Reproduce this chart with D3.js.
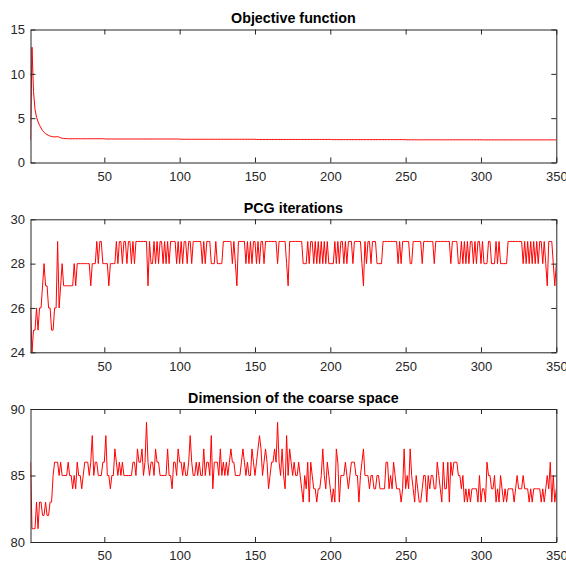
<!DOCTYPE html>
<html>
<head>
<meta charset="utf-8">
<script src="https://cdn.jsdelivr.net/npm/d3@7"></script>
<style>
  body { margin: 0; background: #fff; }
  text { font-family: "Liberation Sans", Arial, Helvetica, sans-serif; }
</style>
</head>
<body>
<div id="chart"></div>
<script>

// x ticks (shared by all panels)
var xTicks = [50, 100, 150, 200, 250, 300, 350];

var titles = ["Objective function", "PCG iterations", "Dimension of the coarse space"];

var yTicksObj = [0, 5, 10, 15];
var yTicksPcg = [24, 26, 28, 30];
var yTicksDim = [80, 85, 90];

// objective function per iteration
var objective = [
    2.5, 13.0, 8.0, 6.0, 5.1, 4.6, 4.2, 3.9, 3.6, 3.4, 3.25, 3.15, 3.05, 2.98, 2.93, 2.9, 2.88, 2.9, 2.92, 2.86, 2.79, 2.74, 2.71, 2.7, 2.69,
    2.68, 2.68, 2.68, 2.68, 2.68, 2.68, 2.68, 2.68, 2.68, 2.68, 2.68, 2.68, 2.68, 2.68, 2.68, 2.68, 2.68, 2.68, 2.68, 2.68, 2.68, 2.68, 2.68, 2.68, 2.68,
    2.65, 2.65, 2.65, 2.65, 2.65, 2.65, 2.65, 2.65, 2.65, 2.65, 2.65, 2.65, 2.65, 2.65, 2.65, 2.65, 2.65, 2.65, 2.65, 2.65, 2.65, 2.65, 2.65, 2.65, 2.65,
    2.65, 2.65, 2.65, 2.65, 2.65, 2.65, 2.65, 2.65, 2.65, 2.65, 2.65, 2.65, 2.65, 2.65, 2.65, 2.65, 2.65, 2.65, 2.65, 2.65, 2.65, 2.65, 2.65, 2.65, 2.65,
    2.62, 2.62, 2.62, 2.62, 2.62, 2.62, 2.62, 2.62, 2.62, 2.62, 2.62, 2.62, 2.62, 2.62, 2.62, 2.62, 2.62, 2.62, 2.62, 2.62, 2.62, 2.62, 2.62, 2.62, 2.62,
    2.62, 2.62, 2.62, 2.62, 2.62, 2.62, 2.62, 2.62, 2.62, 2.62, 2.62, 2.62, 2.62, 2.62, 2.62, 2.62, 2.62, 2.62, 2.62, 2.62, 2.62, 2.62, 2.62, 2.62, 2.62,
    2.6, 2.6, 2.6, 2.6, 2.6, 2.6, 2.6, 2.6, 2.6, 2.6, 2.6, 2.6, 2.6, 2.6, 2.6, 2.6, 2.6, 2.6, 2.6, 2.6, 2.6, 2.6, 2.6, 2.6, 2.6,
    2.6, 2.6, 2.6, 2.6, 2.6, 2.6, 2.6, 2.6, 2.6, 2.6, 2.6, 2.6, 2.6, 2.6, 2.6, 2.6, 2.6, 2.6, 2.6, 2.6, 2.6, 2.6, 2.6, 2.6, 2.6,
    2.58, 2.58, 2.58, 2.58, 2.58, 2.58, 2.58, 2.58, 2.58, 2.58, 2.58, 2.58, 2.58, 2.58, 2.58, 2.58, 2.58, 2.58, 2.58, 2.58, 2.58, 2.58, 2.58, 2.58, 2.58,
    2.58, 2.58, 2.58, 2.58, 2.58, 2.58, 2.58, 2.58, 2.58, 2.58, 2.58, 2.58, 2.58, 2.58, 2.58, 2.58, 2.58, 2.58, 2.58, 2.58, 2.58, 2.58, 2.58, 2.58, 2.58,
    2.56, 2.56, 2.56, 2.56, 2.56, 2.56, 2.56, 2.56, 2.56, 2.56, 2.56, 2.56, 2.56, 2.56, 2.56, 2.56, 2.56, 2.56, 2.56, 2.56, 2.56, 2.56, 2.56, 2.56, 2.56,
    2.56, 2.56, 2.56, 2.56, 2.56, 2.56, 2.56, 2.56, 2.56, 2.56, 2.56, 2.56, 2.56, 2.56, 2.56, 2.56, 2.56, 2.56, 2.56, 2.56, 2.56, 2.56, 2.56, 2.56, 2.56,
    2.55, 2.55, 2.55, 2.55, 2.55, 2.55, 2.55, 2.55, 2.55, 2.55, 2.55, 2.55, 2.55, 2.55, 2.55, 2.55, 2.55, 2.55, 2.55, 2.55, 2.55, 2.55, 2.55, 2.55, 2.55,
    2.55, 2.55, 2.55, 2.55, 2.55, 2.55, 2.55, 2.55, 2.55, 2.55, 2.55, 2.55, 2.55, 2.55, 2.55, 2.55, 2.55, 2.55, 2.55, 2.55, 2.55, 2.55, 2.55, 2.55, 2.55
];

// PCG iterations per outer iteration
var pcgIter = [
    26, 24, 25, 25, 26, 25, 26, 26, 27, 28,
    27, 27, 26, 26, 25, 25, 26, 26, 29, 26,
    27, 28, 27, 27, 27, 27, 27, 27, 27, 28,
    27, 28, 28, 28, 28, 28, 28, 28, 28, 28,
    27, 28, 28, 28, 29, 28, 29, 29, 28, 28,
    28, 28, 27, 28, 28, 28, 28, 29, 28, 29,
    29, 28, 29, 29, 28, 29, 29, 28, 29, 28,
    29, 29, 29, 29, 29, 29, 29, 29, 27, 29,
    28, 28, 29, 28, 29, 28, 29, 29, 28, 29,
    28, 29, 28, 29, 29, 29, 29, 28, 29, 28,
    29, 28, 29, 29, 28, 29, 29, 28, 29, 29,
    29, 29, 29, 29, 28, 29, 28, 29, 29, 29,
    28, 28, 28, 29, 28, 28, 28, 28, 29, 29,
    29, 29, 29, 29, 28, 29, 28, 27, 29, 29,
    29, 29, 29, 28, 29, 28, 29, 28, 29, 29,
    28, 29, 28, 29, 29, 28, 29, 29, 29, 29,
    29, 29, 29, 29, 28, 29, 29, 29, 29, 29,
    28, 27, 29, 29, 29, 29, 29, 29, 29, 29,
    29, 28, 28, 28, 29, 28, 29, 29, 28, 29,
    28, 29, 28, 29, 28, 29, 28, 29, 28, 28,
    28, 28, 29, 28, 29, 28, 29, 29, 28, 29,
    28, 29, 29, 29, 28, 29, 29, 29, 29, 29,
    28, 27, 29, 28, 29, 29, 28,
    29, 29, 29, 28, 28, 28, 28, 29, 29, 29,
    29, 29, 29, 29, 29, 29, 29, 28, 29, 28,
    29, 29, 29, 29, 29, 28, 28, 29, 29, 29,
    29, 29, 29, 28, 29, 29, 29, 29, 29, 29,
    29, 28, 29, 29, 29, 29, 29, 29, 29, 29,
    29, 29, 28, 29, 29, 29, 29, 28, 28, 29,
    28, 29, 28, 29, 28, 29, 29, 28, 29, 28,
    29, 29, 28, 29, 28, 28, 28, 29, 29, 28,
    28, 28, 29, 28, 29, 28, 28, 28, 28, 28,
    29, 29, 29, 29, 29, 29, 29, 29, 29, 29,
    28, 29, 28, 29, 28, 29, 28, 29, 28, 29,
    28, 29, 29, 28, 29, 28, 27, 29, 29, 29,
    28, 27, 28
];

// dimension of the coarse space
var coarseDim = [
    86, 81, 81, 81, 83, 81, 83, 83, 82, 82,
    83, 82, 82, 83, 83, 85, 86, 86, 86, 85,
    86, 85, 85, 85, 85, 86, 85, 85, 84, 85,
    84, 86, 85, 85, 84, 85, 86, 86, 86, 85,
    86, 88, 85, 86, 86, 85, 85, 85, 86, 86,
    88, 85, 85, 84, 85, 85, 87, 86, 85, 86,
    85, 86, 85, 85, 85, 85, 85, 85, 86, 86,
    85, 87, 86, 86, 87, 85, 86, 89, 86, 85,
    86, 86, 85, 87, 86, 86, 85, 85, 85, 85,
    85, 87, 85, 85, 84, 86, 86, 85, 87, 86,
    86, 85, 86, 85, 85, 86, 88, 86, 85, 85,
    86, 85, 86, 85, 85, 87, 85, 86, 86, 85,
    88, 84, 86, 86, 86, 85, 87, 85, 86, 85,
    86, 85, 86, 87, 86, 86, 85, 85, 85, 85,
    86, 87, 86, 85, 86, 85, 85, 87, 86, 85,
    86, 87, 88, 87, 85, 86, 87, 86, 84, 85,
    86, 86, 87, 86, 89, 86, 85, 87, 85, 84,
    88, 85, 87, 86, 85, 86, 85, 85, 86, 85,
    84, 83, 85, 84, 86, 83, 86, 85, 84, 84,
    83, 84, 84, 85, 87, 85, 84, 86, 85, 84,
    83, 84, 83, 87, 86, 83, 85, 85, 85, 86,
    85, 84, 85, 86, 86, 86, 85, 85, 83, 85,
    86, 87, 85, 85, 85, 84, 85,
    85, 84, 84, 85, 85, 84, 84, 84, 84, 86,
    86, 84, 85, 84, 86, 85, 84, 84, 84, 83,
    84, 87, 84, 85, 84, 87, 85, 84, 83, 85,
    84, 83, 83, 84, 85, 85, 83, 85, 84, 85,
    85, 84, 84, 86, 85, 84, 83, 86, 84, 84,
    86, 83, 86, 85, 86, 86, 86, 85, 85, 84,
    85, 83, 84, 83, 84, 83, 84, 84, 84, 84,
    83, 85, 83, 84, 84, 83, 86, 85, 85, 84,
    84, 85, 83, 84, 83, 85, 84, 83, 84, 83,
    84, 84, 84, 84, 83, 84, 85, 84, 84, 84,
    85, 84, 84, 84, 83, 84, 83, 84, 84, 84,
    84, 84, 83, 84, 83, 84, 85, 84, 86, 83,
    85, 83, 84
];

// layout
var W = 566, H = 563;
var left = 30.5, right = 556.3, plotH = 133;
var tops = [29.5, 219.3, 409];
var axisColor = "#262626";

var svg = d3.select("#chart").append("svg")
    .attr("width", W)
    .attr("height", H);

var x = d3.scaleLinear().domain([1, 350]).range([left, right]);

var line = d3.line();

function add_panel(idx, values, yDomain, yTicks) {
    var top = tops[idx],
        bottom = top + plotH;

    var y = d3.scaleLinear().domain(yDomain).range([bottom, top]);

    var g = svg.append("g").attr("class", "panel");

    // clip so the series stays in the box
    svg.append("clipPath")
        .attr("id", "clip" + idx)
        .append("rect")
        .attr("x", left)
        .attr("y", top)
        .attr("width", right - left)
        .attr("height", plotH);

    // the series
    g.append("path")
        .datum(values)
        .attr("clip-path", "url(#clip" + idx + ")")
        .attr("fill", "none")
        .attr("stroke", "#ff0000")
        .attr("stroke-width", 1)
        .attr("stroke-linejoin", "round")
        .attr("d", line
            .x(function (d, i) { return x(i + 1); })
            .y(function (d) { return y(d); }));

    // box axes, inward ticks on all sides
    var fmt = d3.format("d");
    var bottomAx = d3.axisBottom(x).tickValues(xTicks).tickFormat(fmt).tickSizeInner(-5).tickSizeOuter(0).tickPadding(9);
    var topAx = d3.axisTop(x).tickValues(xTicks).tickSizeInner(-5).tickSizeOuter(0).tickFormat("");
    var leftAx = d3.axisLeft(y).tickValues(yTicks).tickFormat(fmt).tickSizeInner(-5).tickSizeOuter(0).tickPadding(5.5);
    var rightAx = d3.axisRight(y).tickValues(yTicks).tickSizeInner(-5).tickSizeOuter(0).tickFormat("");

    var axes = [
        g.append("g").attr("transform", "translate(0," + bottom + ")").call(bottomAx),
        g.append("g").attr("transform", "translate(0," + top + ")").call(topAx),
        g.append("g").attr("transform", "translate(" + left + ",0)").call(leftAx),
        g.append("g").attr("transform", "translate(" + right + ",0)").call(rightAx)
    ];

    axes.forEach(function (a) {
        a.select(".domain").attr("stroke", axisColor).attr("stroke-width", 1);
        a.selectAll(".tick line").attr("stroke", axisColor).attr("stroke-width", 1);
        a.selectAll(".tick text")
            .attr("fill", axisColor)
            .style("font-size", "13px")
            .style("font-family", '"Liberation Sans", Arial, sans-serif');
    });

    // title
    g.append("text")
        .attr("x", (left + right) / 2)
        .attr("y", top - 6.5)
        .attr("text-anchor", "middle")
        .style("font-size", "14.3px")
        .style("font-weight", "bold")
        .attr("fill", "#000")
        .text(titles[idx]);
}

add_panel(0, objective, [0, 15], yTicksObj);
add_panel(1, pcgIter, [24, 30], yTicksPcg);
add_panel(2, coarseDim, [80, 90], yTicksDim);

</script>
</body>
</html>
